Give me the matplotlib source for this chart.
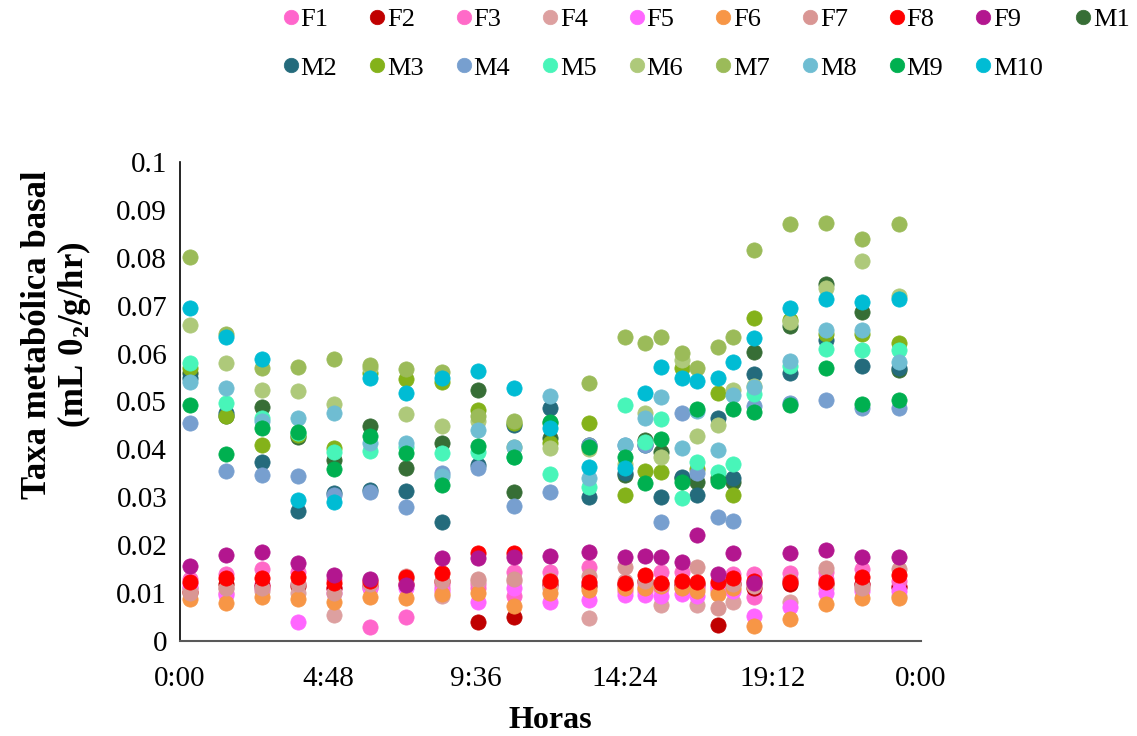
import matplotlib
matplotlib.use("Agg")
import matplotlib.pyplot as plt
import numpy as np

plt.rcParams['font.family'] = ['Liberation Serif', 'DejaVu Serif']
plt.rcParams['mathtext.fontset'] = 'custom'
plt.rcParams['mathtext.rm'] = 'Liberation Serif'
plt.rcParams['mathtext.bf'] = 'Liberation Serif:bold'

# Time of each measurement (hours since midnight)
hours = [0.33, 1.5, 2.67, 3.83, 5.0, 6.17, 7.33, 8.5, 9.67, 10.83, 12.0, 13.25,
         14.42, 15.07, 15.58, 16.25, 16.75, 17.42, 17.92, 18.6, 19.75, 20.92, 22.1, 23.3]

series_names = ["F1", "F2", "F3", "F4", "F5", "F6", "F7", "F8", "F9",
                "M1", "M2", "M3", "M4", "M5", "M6", "M7", "M8", "M9", "M10"]

F1 = [0.011, 0.010, 0.012, 0.012, 0.011, 0.003, 0.005, 0.012, 0.011, 0.0095, 0.0115, 0.012,
      0.0115, 0.012, 0.011, 0.0115, 0.0115, 0.012, 0.0125, 0.0092, 0.013, 0.013, 0.012, 0.0115]
F2 = [0.0102, 0.012, 0.0115, 0.0115, 0.011, 0.0115, 0.012, 0.0125, 0.004, 0.005, 0.012, 0.0115,
      0.012, 0.0125, 0.012, 0.012, 0.012, 0.0033, 0.012, 0.011, 0.012, 0.012, 0.012, 0.0113]
F3 = [0.013, 0.014, 0.015, 0.0145, 0.013, 0.012, 0.012, 0.011, 0.012, 0.0145, 0.0145, 0.0155,
      0.0105, 0.0105, 0.0144, 0.0145, 0.011, 0.0115, 0.014, 0.014, 0.0142, 0.0145, 0.015, 0.0125]
F4 = [0.011, 0.011, 0.0105, 0.010, 0.0054, 0.011, 0.0135, 0.0095, 0.0125, 0.0125, 0.011, 0.0048,
      0.0125, 0.011, 0.0075, 0.011, 0.0075, 0.0105, 0.0081, 0.0115, 0.0081, 0.011, 0.0115, 0.0095]
F5 = [0.012, 0.0096, 0.011, 0.004, 0.010, 0.011, 0.011, 0.0105, 0.0081, 0.011, 0.0081, 0.0086,
      0.0096, 0.0096, 0.0095, 0.0098, 0.0095, 0.011, 0.0105, 0.0052, 0.0071, 0.010, 0.0105, 0.0105]
F6 = [0.0087, 0.008, 0.0092, 0.0088, 0.0082, 0.0092, 0.009, 0.0099, 0.010, 0.0073, 0.010, 0.0106,
      0.011, 0.011, 0.0115, 0.011, 0.0105, 0.0098, 0.011, 0.0031, 0.0046, 0.0077, 0.009, 0.009]
F7 = [0.010, 0.011, 0.011, 0.012, 0.010, 0.012, 0.013, 0.0125, 0.0129, 0.013, 0.0127, 0.0135,
      0.0155, 0.0125, 0.012, 0.0125, 0.0155, 0.0069, 0.012, 0.012, 0.0125, 0.0152, 0.011, 0.015]
F8 = [0.0123, 0.0131, 0.0131, 0.0134, 0.0121, 0.0125, 0.0133, 0.0142, 0.0184, 0.0184, 0.0125, 0.0123,
      0.0121, 0.0138, 0.0121, 0.0125, 0.0123, 0.0123, 0.0131, 0.0125, 0.0123, 0.0123, 0.0134, 0.0138]
F9 = [0.0157, 0.018, 0.0186, 0.0163, 0.0138, 0.0129, 0.0116, 0.0173, 0.0173, 0.0175, 0.0177, 0.0186,
      0.0175, 0.0177, 0.0175, 0.0165, 0.0221, 0.014, 0.0184, 0.0121, 0.0184, 0.019, 0.0176, 0.0176]
M1 = [0.056, 0.047, 0.0489, 0.0425, 0.0378, 0.0449, 0.0361, 0.0414, 0.0525, 0.0311, 0.0424, 0.041,
      0.0347, 0.042, 0.0395, 0.034, 0.0332, 0.034, 0.0332, 0.0603, 0.0657, 0.0746, 0.0687, 0.0565]
M2 = [0.055, 0.0475, 0.0374, 0.0271, 0.031, 0.0315, 0.0313, 0.0248, 0.0367, 0.045, 0.0487, 0.0301,
      0.035, 0.041, 0.0301, 0.0343, 0.0305, 0.0466, 0.034, 0.0557, 0.056, 0.0628, 0.0574, 0.057]
M3 = [0.057, 0.047, 0.0409, 0.043, 0.0403, 0.056, 0.0547, 0.054, 0.0482, 0.0455, 0.0413, 0.0455,
      0.0305, 0.0355, 0.0353, 0.057, 0.036, 0.0518, 0.0305, 0.0674, 0.067, 0.064, 0.064, 0.0622]
M4 = [0.0455, 0.0355, 0.0347, 0.0344, 0.0305, 0.0311, 0.028, 0.035, 0.0361, 0.0282, 0.0311, 0.041,
      0.041, 0.041, 0.0248, 0.0476, 0.0351, 0.0259, 0.025, 0.049, 0.0497, 0.0503, 0.0487, 0.0487]
M5 = [0.058, 0.0497, 0.0465, 0.0435, 0.0395, 0.0397, 0.0405, 0.0393, 0.0395, 0.0385, 0.0349, 0.0322,
      0.0493, 0.0416, 0.0463, 0.0298, 0.0374, 0.0353, 0.0369, 0.0515, 0.0575, 0.0609, 0.0608, 0.0608]
M6 = [0.066, 0.058, 0.0524, 0.0522, 0.0495, 0.057, 0.0474, 0.0449, 0.046, 0.0405, 0.0403, 0.040,
      0.037, 0.0476, 0.0385, 0.0587, 0.0428, 0.0451, 0.0524, 0.0532, 0.0666, 0.0737, 0.0793, 0.072]
M7 = [0.0802, 0.064, 0.057, 0.0572, 0.0589, 0.0576, 0.0568, 0.0562, 0.047, 0.046, 0.0455, 0.0539,
      0.0634, 0.0622, 0.0634, 0.0601, 0.057, 0.0614, 0.0634, 0.0816, 0.087, 0.0872, 0.0839, 0.087]
M8 = [0.054, 0.0528, 0.046, 0.0465, 0.0476, 0.0414, 0.0414, 0.0344, 0.044, 0.0405, 0.0511, 0.034,
      0.041, 0.0466, 0.0509, 0.0403, 0.048, 0.0399, 0.0513, 0.053, 0.0585, 0.0649, 0.0649, 0.0582]
M9 = [0.0493, 0.039, 0.0444, 0.0436, 0.0359, 0.0428, 0.0392, 0.0326, 0.0408, 0.0385, 0.0457, 0.0405,
      0.0385, 0.033, 0.0422, 0.0332, 0.0484, 0.0334, 0.0484, 0.0478, 0.0493, 0.057, 0.0495, 0.0503]
M10 = [0.0695, 0.0635, 0.0589, 0.0294, 0.029, 0.0549, 0.0518, 0.0549, 0.0564, 0.0528, 0.0445, 0.0363,
       0.0361, 0.0518, 0.0572, 0.0549, 0.0543, 0.0549, 0.0582, 0.0633, 0.0695, 0.0714, 0.0708, 0.0714]

values = [F1, F2, F3, F4, F5, F6, F7, F8, F9, M1, M2, M3, M4, M5, M6, M7, M8, M9, M10]

colors = ["#FF66CC", "#C00000", "#FF6AC8", "#DDA0A0", "#FF66FF", "#F79646", "#D99694", "#FF0000",
          "#B3168F", "#376E36", "#246B7C", "#84B21A", "#779FCF", "#48F5B9", "#AEC97A", "#9BBB59",
          "#6FBDD2", "#00B050", "#00BCD4"]

xtick_pos = [0, 4.8, 9.6, 14.4, 19.2, 24]
xtick_labels = ["0:00", "4:48", "9:36", "14:24", "19:12", "0:00"]
ytick_pos = [0, 0.01, 0.02, 0.03, 0.04, 0.05, 0.06, 0.07, 0.08, 0.09, 0.1]
ytick_labels = ["0", "0.01", "0.02", "0.03", "0.04", "0.05", "0.06", "0.07", "0.08", "0.09", "0.1"]

fig = plt.figure(figsize=(11.37, 7.36), dpi=100)
ax = fig.add_axes([0.158, 0.129, 0.652, 0.651])

handles = []
for name, vals, c in zip(series_names, values, colors):
    h, = ax.plot(hours, vals, linestyle='none', marker='o', markersize=11,
                 markerfacecolor=c, markeredgecolor=c, markeredgewidth=0.5, label=name)
    handles.append(h)

ax.set_xlim(0, 24)
ax.set_ylim(0, 0.1)
ax.set_xticks(xtick_pos)
ax.set_xticklabels(xtick_labels)
ax.set_yticks(ytick_pos)
ax.set_yticklabels(ytick_labels)
ax.tick_params(axis='both', length=0, labelsize=21)
ax.tick_params(axis='x', pad=18)
ax.tick_params(axis='y', pad=9)
for s in ['top', 'right']:
    ax.spines[s].set_visible(False)
ax.spines['left'].set_color('#000000')
ax.spines['bottom'].set_color('#595959')
ax.spines['left'].set_linewidth(1.2)
ax.spines['bottom'].set_linewidth(1.5)

ax.set_xlabel("Horas", fontsize=23, fontweight='bold', labelpad=10)
ax.set_ylabel("Taxa metabólica basal\n(mL 0$_\\mathbf{2}$/g/hr)", fontsize=25,
              fontweight='bold', linespacing=1.05)
ax.yaxis.set_label_coords(-0.117, 0.64)

# legend: first row F1..F9, M1; second row M2..M10 (matplotlib fills column-wise)
top_row = handles[:10]
bottom_row = handles[10:]
order = []
for i in range(9):
    order.append(top_row[i])
    order.append(bottom_row[i])
order.append(top_row[9])
fig.legend(handles=order, labels=[h.get_label() for h in order], ncol=10,
           loc='upper left', bbox_to_anchor=(0.229, 1.022), frameon=False,
           fontsize=19, handlelength=0.5, handletextpad=0.12, columnspacing=1.27,
           labelspacing=0.95, markerscale=0.95)

fig.savefig("out.png", dpi=100)
